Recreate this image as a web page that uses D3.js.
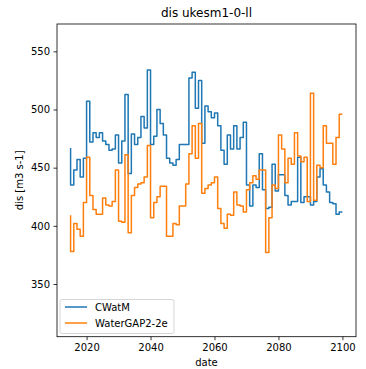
<!DOCTYPE html>
<html>
<head>
<meta charset="utf-8">
<script src="https://cdn.jsdelivr.net/npm/d3@7"></script>
<style>
  body { margin: 0; background: #fff; }
  svg { display: block; font-family: "DejaVu Sans", sans-serif; }
</style>
</head>
<body>
<div id="chart"></div>
<script>
// yearly values 2015..2100
const years = d3.range(2015, 2101);

const cwatm = [
  467,
  435, 448, 457, 442, 458, 507, 472, 480, 476, 480,
  473, 470, 465, 466, 478, 454, 473, 513, 445, 479,
  470, 476, 494, 484, 534, 470, 477, 500, 488, 478,
  458, 454, 452, 457, 470, 470, 470, 527, 532, 501,
  525, 471, 503, 498, 493, 497, 486, 465, 453, 478,
  466, 486, 466, 476, 489, 435, 417, 435, 433, 462,
  431, 415, 416, 453, 430, 444, 444, 426, 418, 421,
  421, 459, 420, 425, 425, 418, 421, 442, 449, 435,
  429, 420, 419, 410,
  412
];

const watergap = [
  409,
  378, 402, 397, 391, 420, 459, 426, 414, 410, 410,
  424, 418, 417, 421, 448, 404, 403, 461, 394, 426,
  433, 436, 437, 442, 469, 407, 420, 425, 434, 434,
  391, 391, 402, 401, 417, 417, 436, 462, 486, 458,
  488, 428, 432, 435, 437, 442, 415, 402, 398, 410,
  409, 429, 418, 417, 412, 431, 437, 443, 440, 448,
  448, 377, 407, 435, 432, 478, 466, 437, 458, 453,
  480, 460, 455, 459, 421, 514, 422, 452, 450, 486,
  471, 471, 453, 476,
  496
];

const seriesNames = ["CWatM", "WaterGAP2-2e"];
const seriesColors = ["#1f77b4", "#ff7f0e"];
const xTicks = [2020, 2040, 2060, 2080, 2100];
const yTicks = [350, 400, 450, 500, 550];

const width = 366, height = 369;
const plot = { left: 57, top: 24, right: 356, bottom: 336.7 };

const svg = d3.select("#chart").append("svg")
  .attr("width", width)
  .attr("height", height);

svg.append("rect").attr("width", width).attr("height", height).attr("fill", "#fff");

const x = d3.scaleLinear().domain([2010.75, 2104.25]).range([plot.left, plot.right]);
const y = d3.scaleLinear().domain([304.7, 573.5]).range([plot.bottom, plot.top]);

// axes
const xAxis = svg.append("g")
  .attr("transform", `translate(0,${plot.bottom})`)
  .call(d3.axisBottom(x).tickValues(xTicks).tickFormat(d3.format("d")).tickSize(3.5).tickPadding(3.5));

const yAxis = svg.append("g")
  .attr("transform", `translate(${plot.left},0)`)
  .call(d3.axisLeft(y).tickValues(yTicks).tickSize(3.5).tickPadding(3.5));

[xAxis, yAxis].forEach(g => {
  g.select(".domain").remove();
  g.selectAll(".tick line").attr("stroke", "#000").attr("stroke-width", 0.8);
  g.selectAll(".tick text").attr("fill", "#000").style("font-size", "10px")
    .style("font-family", "DejaVu Sans, sans-serif");
});

// lines
const series = [cwatm, watergap];
const line = d3.line()
  .x((d, i) => x(years[i]))
  .y(d => y(d))
  .curve(d3.curveStepBefore);

series.forEach((vals, k) => {
  svg.append("path")
    .datum(vals)
    .attr("fill", "none")
    .attr("stroke", seriesColors[k])
    .attr("stroke-width", 1.5)
    .attr("stroke-linejoin", "round")
    .attr("d", line);
});

// frame
svg.append("rect")
  .attr("x", plot.left).attr("y", plot.top)
  .attr("width", plot.right - plot.left).attr("height", plot.bottom - plot.top)
  .attr("fill", "none").attr("stroke", "#000").attr("stroke-width", 0.8);

// title and labels
svg.append("text")
  .attr("x", (plot.left + plot.right) / 2).attr("y", 17)
  .attr("text-anchor", "middle")
  .style("font-size", "12px")
  .text("dis ukesm1-0-ll");

svg.append("text")
  .attr("x", (plot.left + plot.right) / 2).attr("y", 366)
  .attr("text-anchor", "middle")
  .style("font-size", "10px")
  .text("date");

svg.append("text")
  .attr("transform", `translate(23,${(plot.top + plot.bottom) / 2}) rotate(-90)`)
  .attr("text-anchor", "middle")
  .style("font-size", "10px")
  .text("dis [m3 s-1]");

// legend
const legend = svg.append("g").attr("transform", "translate(60,299.5)");
legend.append("rect")
  .attr("width", 114).attr("height", 34).attr("rx", 2)
  .attr("fill", "#fff").attr("fill-opacity", 0.8)
  .attr("stroke", "#ccc").attr("stroke-width", 0.8);

seriesNames.forEach((name, k) => {
  const ly = 7.5 + k * 16;
  legend.append("line")
    .attr("x1", 5).attr("x2", 27).attr("y1", ly).attr("y2", ly)
    .attr("stroke", seriesColors[k]).attr("stroke-width", 1.5);
  legend.append("text")
    .attr("x", 35).attr("y", ly + 3.5)
    .style("font-size", "10px")
    .text(name);
});
</script>
</body>
</html>
